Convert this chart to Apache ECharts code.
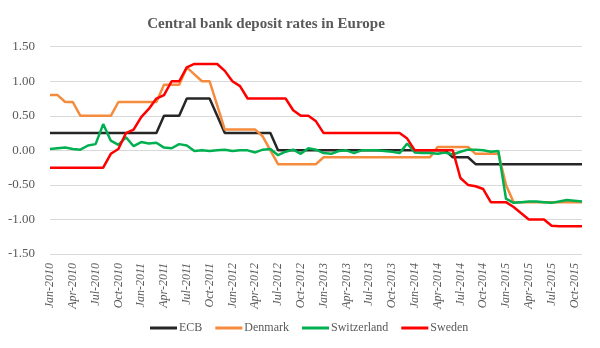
<!DOCTYPE html>
<html>
<head>
<meta charset="utf-8">
<script src="https://cdn.jsdelivr.net/npm/echarts@6/dist/echarts.min.js"></script>
<style>html,body{margin:0;padding:0;background:#fff;}#c{width:600px;height:348px;}</style>
</head>
<body>
<div id="c"></div>
<script>
var monthNames = ['Jan','Feb','Mar','Apr','May','Jun','Jul','Aug','Sep','Oct','Nov','Dec'];
var years = [2010, 2011, 2012, 2013, 2014, 2015];
var categories = [];
years.forEach(function (y) { monthNames.forEach(function (m) { categories.push(m + '-' + y); }); });
categories = categories.slice(0, 71); // Jan-2010 .. Nov-2015

var ecb = [
  0.25,0.25,0.25,0.25,0.25,0.25,0.25,0.25,0.25,0.25,0.25,0.25,
  0.25,0.25,0.25,0.50,0.50,0.50,0.75,0.75,0.75,0.75,0.50,0.25,
  0.25,0.25,0.25,0.25,0.25,0.25,0.00,0.00,0.00,0.00,0.00,0.00,
  0.00,0.00,0.00,0.00,0.00,0.00,0.00,0.00,0.00,0.00,0.00,0.00,
  0.00,0.00,0.00,0.00,0.00,-0.10,-0.10,-0.10,-0.20,-0.20,-0.20,-0.20,
  -0.20,-0.20,-0.20,-0.20,-0.20,-0.20,-0.20,-0.20,-0.20,-0.20,-0.20
];
var denmark = [
  0.80,0.80,0.70,0.70,0.50,0.50,0.50,0.50,0.50,0.70,0.70,0.70,
  0.70,0.70,0.70,0.95,0.95,0.95,1.20,1.10,1.00,1.00,0.65,0.30,
  0.30,0.30,0.30,0.30,0.20,0.00,-0.20,-0.20,-0.20,-0.20,-0.20,-0.20,
  -0.10,-0.10,-0.10,-0.10,-0.10,-0.10,-0.10,-0.10,-0.10,-0.10,-0.10,-0.10,
  -0.10,-0.10,-0.10,0.05,0.05,0.05,0.05,0.05,-0.05,-0.05,-0.05,-0.05,
  -0.50,-0.75,-0.75,-0.75,-0.75,-0.75,-0.75,-0.75,-0.75,-0.75,-0.75
];
var switzerland = [
  0.02,0.03,0.04,0.02,0.01,0.07,0.09,0.38,0.14,0.08,0.19,0.06,
  0.12,0.10,0.11,0.04,0.03,0.09,0.07,-0.01,0.00,-0.01,0.00,0.01,
  -0.01,0.00,0.00,-0.03,0.01,0.02,-0.07,-0.02,0.01,-0.05,0.03,0.01,
  -0.04,-0.05,-0.01,0.00,-0.04,0.00,0.00,0.00,-0.01,-0.02,-0.04,0.10,
  -0.03,-0.04,-0.04,-0.05,-0.03,-0.06,-0.02,0.01,0.01,0.00,-0.02,-0.01,
  -0.70,-0.76,-0.75,-0.74,-0.74,-0.75,-0.76,-0.74,-0.72,-0.73,-0.74
];
var sweden = [
  -0.25,-0.25,-0.25,-0.25,-0.25,-0.25,-0.25,-0.25,-0.05,0.02,0.25,0.30,
  0.48,0.60,0.75,0.80,1.00,1.00,1.20,1.25,1.25,1.25,1.25,1.15,
  1.00,0.93,0.75,0.75,0.75,0.75,0.75,0.75,0.58,0.50,0.50,0.42,
  0.25,0.25,0.25,0.25,0.25,0.25,0.25,0.25,0.25,0.25,0.25,0.17,
  0.00,0.00,0.00,0.00,0.00,0.00,-0.40,-0.50,-0.52,-0.56,-0.75,-0.75,
  -0.75,-0.82,-0.91,-1.00,-1.00,-1.00,-1.09,-1.10,-1.10,-1.10,-1.10
];
var seriesNames = ['ECB', 'Denmark', 'Switzerland', 'Sweden'];
var seriesData = [ecb, denmark, switzerland, sweden];
var colors = ['#262626', '#F58B3C', '#00B050', '#FF0000'];
var yTicks = { min: -1.5, max: 1.5, step: 0.5 };

var textColor = '#595959';
var serif = "'Liberation Serif', 'DejaVu Serif', serif";

var chart = echarts.init(document.getElementById('c'), null, { renderer: 'canvas' });
chart.setOption({
  animation: false,
  backgroundColor: '#ffffff',
  color: colors,
  title: {
    text: 'Central bank deposit rates in Europe',
    left: 261, textAlign: 'center', top: 12,
    textStyle: { fontFamily: serif, fontSize: 15, fontWeight: 'bold', color: textColor }
  },
  legend: {
    bottom: 9, left: 145,
    icon: 'rect', itemWidth: 27, itemHeight: 3, itemGap: 13,
    textStyle: { fontFamily: serif, fontSize: 12, color: textColor, padding: [0, 0, 0, -3] },
    data: seriesNames
  },
  grid: { left: 50, right: 18, top: 46.7, bottom: 94, containLabel: false },
  xAxis: {
    type: 'category', data: categories, boundaryGap: false,
    axisLine: { show: false }, axisTick: { show: false },
    axisLabel: { interval: 2, rotate: 90, margin: 9, fontFamily: serif, fontStyle: 'italic', fontSize: 12, color: textColor },
    splitLine: { show: false }
  },
  yAxis: {
    type: 'value', min: yTicks.min, max: yTicks.max, interval: yTicks.step,
    axisLine: { show: false }, axisTick: { show: false },
    axisLabel: { margin: 15, fontFamily: serif, fontSize: 13, color: textColor,
      formatter: function (v) { return v.toFixed(2); } },
    splitLine: { lineStyle: { color: '#d9d9d9', width: 1 } }
  },
  series: seriesNames.map(function (n, k) {
    return {
      name: n, type: 'line', data: seriesData[k], showSymbol: false, symbol: 'none',
      lineStyle: { width: 2.5, color: colors[k] }, itemStyle: { color: colors[k] }
    };
  })
});
</script>
</body>
</html>
